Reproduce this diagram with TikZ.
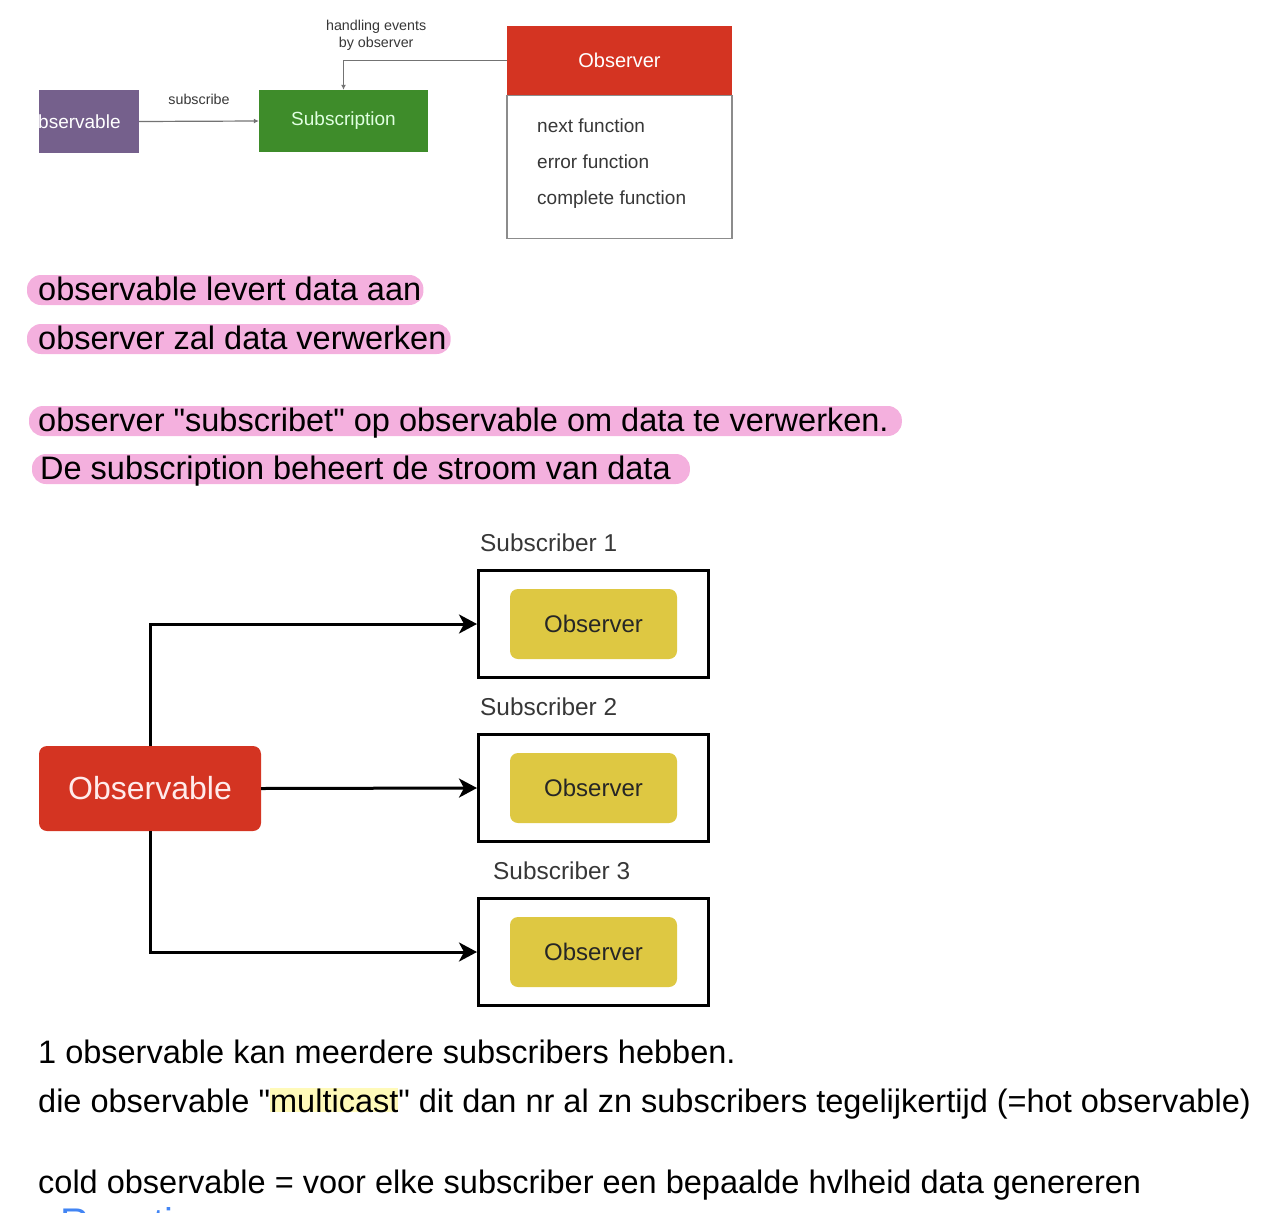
\documentclass[tikz,border=0pt]{standalone}
\usepackage{fontspec}
\setmainfont{Liberation Sans}[Ligatures=TeXOff]
\usepackage{tikz}
\usetikzlibrary{arrows.meta, positioning, calc, backgrounds}
\usepackage{xcolor}
\definecolor{cPurple}{RGB}{117,96,140}
\definecolor{cGreen}{RGB}{62,140,42}
\definecolor{cRed}{RGB}{212,52,34}
\definecolor{cYellow}{RGB}{222,200,66}
\definecolor{cPink}{RGB}{244,176,222}
\definecolor{cHiYel}{RGB}{255,250,185}
\definecolor{cBlueHead}{RGB}{66,133,244}
\definecolor{cTxtGray}{RGB}{55,55,55}
\newcommand{\fsz}[1]{\fontsize{#1}{#1}\selectfont}
\newcommand{\hiyel}[1]{{\setlength{\fboxsep}{0pt}\colorbox{cHiYel}{#1}}}
\tikzset{
  basebox/.style={rectangle, align=center, inner sep=0pt},
  smallbox/.style={basebox, minimum height=63pt, font=\fsz{19}},
  purplenode/.style={smallbox, fill=cPurple, text=white, minimum width=134pt},
  greennode/.style={smallbox, fill=cGreen, text=green!12, minimum width=169pt,
                    minimum height=62pt},
  headnode/.style={basebox, fill=cRed, text=white, minimum width=225pt,
                   minimum height=69pt, font=\fsz{20}},
  listnode/.style={basebox, draw=black!45, line width=1.2pt, fill=white,
                   minimum width=225pt, minimum height=143pt},
  itemtext/.style={anchor=base west, inner sep=0pt, font=\fsz{19}, text=cTxtGray},
  smalllabel/.style={align=center, inner sep=0pt, font=\fontsize{14.3}{17}\selectfont,
                     text=cTxtGray},
  grayarrow/.style={-{Latex[length=5pt,width=5pt]}, line width=1.2pt, color=black!55},
  obsnode/.style={basebox, rounded corners=8pt, fill=cRed, text=red!8,
                  minimum width=222pt, minimum height=85pt, font=\fsz{32}},
  subnode/.style={basebox, draw=black, line width=3pt, minimum width=230pt,
                  minimum height=107pt},
  observernode/.style={basebox, rounded corners=8pt, fill=cYellow, text=black!85,
                       minimum width=167pt, minimum height=70pt, font=\fsz{24}},
  sublabel/.style={inner sep=0pt, font=\fsz{24.4}, text=cTxtGray},
  thickarrow/.style={-{Stealth[length=18pt,width=19pt,inset=5pt]}, line width=3pt},
  bodytext/.style={anchor=base west, inner sep=0pt, font=\fsz{32.5}},
  hilite/.style={fill=cPink, rounded corners=14pt}
}

\begin{document}
\begin{tikzpicture}[x=1pt, y=-1pt, node distance=54pt]
  \useasboundingbox (0,0) rectangle (1284,1212);

  % Top diagram
  \begin{scope}
    \clip (39,0) rectangle (1284,1212);
    \node[purplenode] (obsTop) at (72,121.5) {Observable};
  \end{scope}
  \node[greennode] (subTop) at (343.5,121) {Subscription};
  \node[headnode] (obsHead) at (619.5,60.5) {Observer};
  \node[listnode, below=0pt of obsHead] (obsList) {};
  \node[itemtext] (fnNext) at (537,132) {next function};
  \node[itemtext] (fnError) at (537,168) {error function};
  \node[itemtext] (fnDone) at (537,204) {complete function};

  \draw[grayarrow] (obsTop.east) -- (subTop.west)
      node[smalllabel, midway, above=16pt] {subscribe};
  \draw[grayarrow] (obsHead.west) -| (subTop.north)
      node[smalllabel, pos=0.4, above=9pt] {handling events\\by observer};

  % Notes
  \node[bodytext] (l1) at (38,300) {observable levert data aan};
  \node[bodytext] (l2) at (38,349) {observer zal data verwerken};
  \node[bodytext] (l3) at (38,431) {observer "subscribet" op observable om data te verwerken.};
  \node[bodytext] (l4) at (40,479) {De subscription beheert de stroom van data};
  \begin{pgfonlayer}{background}
    \foreach \n/\lp/\rp in {l1/11/2, l2/11/4, l3/9/13, l4/8/19}
      \fill[hilite] ($(\n.base west)+(-\lp,5)$) rectangle ($(\n.base east)+(\rp,-25)$);
  \end{pgfonlayer}

  % Multicast diagram
  \node[obsnode] (obsMain) at (150,788.5) {Observable};
  \node[subnode] (sub1) at (593.5,624) {};
  \node[subnode, below=of sub1] (sub2) {};
  \node[subnode, below=of sub2] (sub3) {};
  \foreach \i in {1,2,3}
    \node[observernode] (obs\i) at (sub\i) {Observer};
  \node[sublabel, above right=17pt and 3pt of sub1.north west] (lab1) {Subscriber 1};
  \node[sublabel, above right=17pt and 3pt of sub2.north west] (lab2) {Subscriber 2};
  \node[sublabel, above right=17pt and 16pt of sub3.north west] (lab3) {Subscriber 3};

  \draw[thickarrow] (obsMain.north) |- (sub1.west);
  \draw[thickarrow] (obsMain.east) -- (sub2.west);
  \draw[thickarrow] (obsMain.south) |- (sub3.west);

  % More notes
  \node[bodytext] (n1) at (38,1063) {1 observable kan meerdere subscribers hebben.};
  \node[bodytext] (n2) at (38,1112) {die observable "\hiyel{multicast}" dit dan nr al zn subscribers tegelijkertijd (=hot observable)};
  \node[bodytext] (n3) at (38,1193) {cold observable = voor elke subscriber een bepaalde hvlheid data genereren};
  \begin{scope}
    \clip (0,0) rectangle (1284,1212);
    \node[bodytext, font=\fsz{40}, text=cBlueHead] (head) at (60,1236) {Reactive};
  \end{scope}
\end{tikzpicture}
\end{document}
